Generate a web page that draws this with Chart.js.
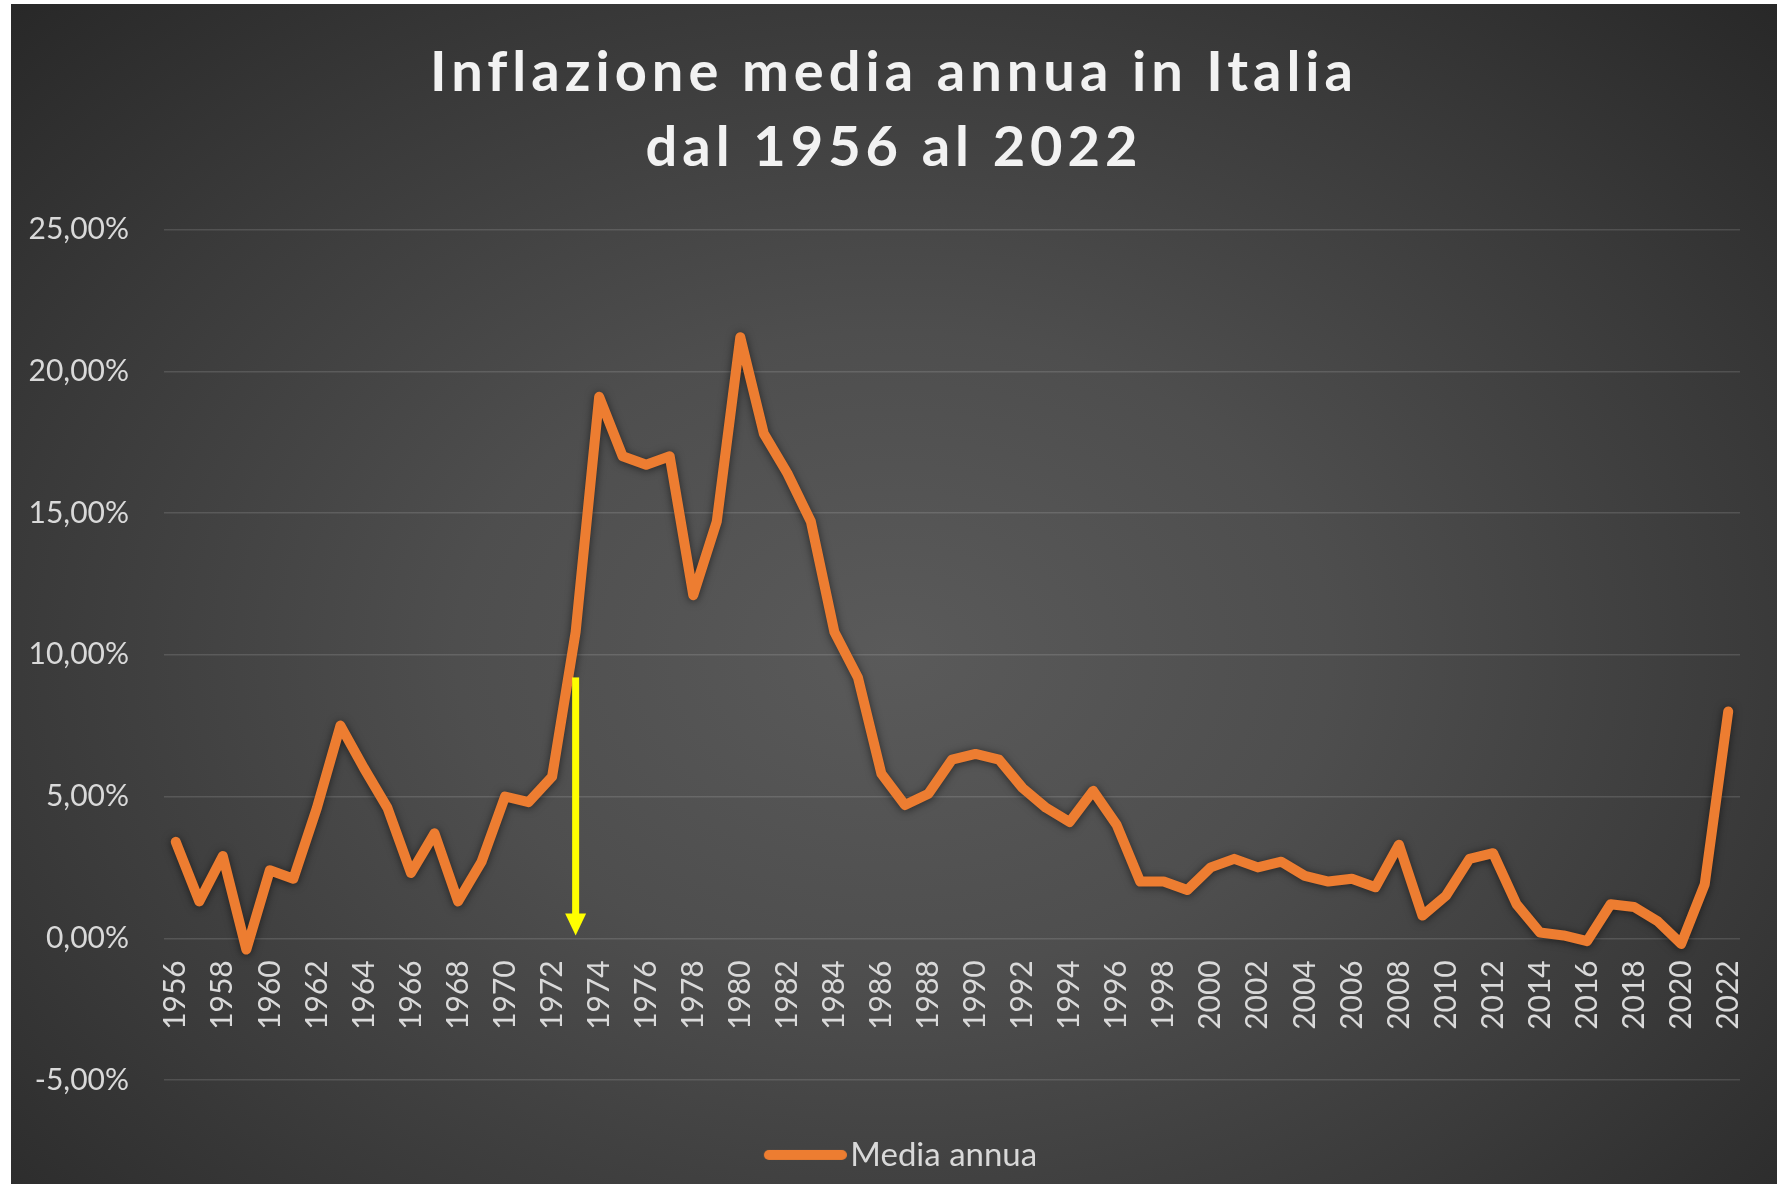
<!DOCTYPE html>
<html>
<head>
<meta charset="utf-8">
<script src="https://cdn.jsdelivr.net/npm/chart.js@4.4.1/dist/chart.umd.min.js"></script>
<style>
  html, body { margin: 0; padding: 0; background: #ffffff; }
  #wrap {
    position: absolute; left: 11px; top: 4px; width: 1766px; height: 1180px;
    background: radial-gradient(ellipse farthest-corner at 50% 55%, #5a5a5a 0%, #4e4e4e 35%, #3a3a3a 70%, #282828 100%);
  }
  canvas { display: block; }
</style>
</head>
<body>
<div id="wrap"><canvas id="c" width="1766" height="1180"></canvas></div>
<script>
// ---- Data ----
const titleLines = ["Inflazione media annua in Italia", "dal 1956 al 2022"];
const seriesName = "Media annua";
const years = [
  "1956","1957","1958","1959","1960","1961","1962","1963","1964","1965",
  "1966","1967","1968","1969","1970","1971","1972","1973","1974","1975",
  "1976","1977","1978","1979","1980","1981","1982","1983","1984","1985",
  "1986","1987","1988","1989","1990","1991","1992","1993","1994","1995",
  "1996","1997","1998","1999","2000","2001","2002","2003","2004","2005",
  "2006","2007","2008","2009","2010","2011","2012","2013","2014","2015",
  "2016","2017","2018","2019","2020","2021","2022"
];
const inflation = [
  3.4, 1.3, 2.9, -0.4, 2.4, 2.1, 4.6, 7.5, 6.0, 4.6,
  2.3, 3.7, 1.3, 2.7, 5.0, 4.8, 5.7, 10.8, 19.1, 17.0,
  16.7, 17.0, 12.1, 14.7, 21.2, 17.8, 16.4, 14.7, 10.8, 9.2,
  5.8, 4.7, 5.1, 6.3, 6.5, 6.3, 5.3, 4.6, 4.1, 5.2,
  4.0, 2.0, 2.0, 1.7, 2.5, 2.8, 2.5, 2.7, 2.2, 2.0,
  2.1, 1.8, 3.3, 0.8, 1.5, 2.8, 3.0, 1.2, 0.2, 0.1,
  -0.1, 1.2, 1.1, 0.6, -0.2, 1.9, 8.0
];
const yTickValues = [-5, 0, 5, 10, 15, 20, 25];
// Annotation arrow (year, from value, to value)
const arrowYear = "1973";
const arrowFrom = 9.2;
const arrowTo = 0.1;

const lineColor = '#ED7D31';
const labelColor = '#d9d9d9';
const fmtPct = v => v.toFixed(2).replace('.', ',') + '%';

// legend sample: a thick rounded line, shifted right inside its image
const legendBoxWidth = 83;
const legendShift = 13;
const legendSample = (() => {
  const cv = document.createElement('canvas');
  cv.width = legendBoxWidth + 2 * legendShift;
  cv.height = 14;
  const g = cv.getContext('2d');
  g.strokeStyle = lineColor;
  g.lineWidth = 10;
  g.lineCap = 'round';
  g.beginPath();
  g.moveTo(2 * legendShift + 5, 7);
  g.lineTo(cv.width - 5, 7);
  g.stroke();
  return cv;
})();

const titleSpacing = {
  id: 'titleSpacing',
  afterInit(chart) {
    const tb = chart.titleBlock;
    if (!tb) return;
    const orig = tb.draw.bind(tb);
    tb.draw = function(area) {
      const ctx = chart.ctx;
      ctx.save();
      ctx.letterSpacing = '5px';
      orig(area);
      ctx.restore();
    };
  }
};

const lineShadow = {
  id: 'lineShadow',
  beforeDatasetsDraw(chart) {
    const ctx = chart.ctx;
    ctx.save();
    ctx.shadowColor = 'rgba(0,0,0,0.55)';
    ctx.shadowBlur = 8;
    ctx.shadowOffsetX = 0;
    ctx.shadowOffsetY = 1;
  },
  afterDatasetsDraw(chart) {
    chart.ctx.restore();
  }
};

const arrowPlugin = {
  id: 'arrowPlugin',
  afterDraw(chart) {
    const xs = chart.scales.x, ys = chart.scales.y, ctx = chart.ctx;
    const x = xs.getPixelForValue(years.indexOf(arrowYear));
    const yTop = ys.getPixelForValue(arrowFrom);
    const yTip = ys.getPixelForValue(arrowTo);
    const headH = 22, headW = 21, shaftW = 7;
    ctx.save();
    ctx.fillStyle = '#FFFF00';
    ctx.fillRect(x - shaftW / 2, yTop, shaftW, (yTip - headH) - yTop + 1);
    ctx.beginPath();
    ctx.moveTo(x - headW / 2, yTip - headH);
    ctx.lineTo(x + headW / 2, yTip - headH);
    ctx.lineTo(x, yTip);
    ctx.closePath();
    ctx.fill();
    ctx.restore();
  }
};

new Chart(document.getElementById('c'), {
  type: 'line',
  data: {
    labels: years,
    datasets: [{
      label: seriesName,
      data: inflation,
      yAxisID: 'y',
      borderColor: lineColor,
      backgroundColor: lineColor,
      borderWidth: 10,
      borderJoinStyle: 'round',
      borderCapStyle: 'round',
      pointRadius: 0,
      pointHoverRadius: 0,
      tension: 0,
      fill: false
    }]
  },
  options: {
    responsive: false,
    animation: false,
    events: [],
    layout: { padding: { left: 0, right: 0, top: 0, bottom: 2.6 } },
    plugins: {
      title: {
        display: true,
        text: titleLines,
        color: '#f2f2f2',
        font: { family: 'Lato', weight: 'bold', size: 56, lineHeight: '75px' },
        padding: { top: 31, bottom: 44.5 }
      },
      legend: {
        display: true,
        position: 'bottom',
        labels: {
          usePointStyle: true,
          pointStyle: legendSample,
          pointStyleWidth: legendBoxWidth,
          padding: 58.4,
          color: labelColor,
          font: { family: 'Lato', size: 33 }
        }
      },
      tooltip: { enabled: false }
    },
    scales: {
      x: {
        type: 'category',
        position: { y: 0 },
        offset: true,
        grid: { display: false, drawTicks: false },
        border: { display: false },
        ticks: {
          autoSkip: false,
          minRotation: 90,
          maxRotation: 90,
          padding: 22,
          color: labelColor,
          font: { family: 'Lato', size: 30 },
          callback: (v, i) => (i % 2 === 0 ? years[i] : '')
        },
        afterFit: s => { s.height = 0; s.paddingLeft = 0; s.paddingRight = 0; }
      },
      y: {
        position: 'left',
        min: -5,
        max: 25,
        afterBuildTicks: s => { s.ticks = yTickValues.map(v => ({ value: v })); },
        grid: { color: 'rgba(255,255,255,0.13)', lineWidth: 1.5, drawTicks: false },
        border: { display: false },
        ticks: {
          padding: 35,
          color: labelColor,
          font: { family: 'Lato', size: 30 },
          callback: v => fmtPct(v)
        },
        afterFit: s => { s.width = 153; }
      },
      yRight: {
        position: 'right',
        display: true,
        grid: { display: false, drawTicks: false },
        border: { display: false },
        ticks: { display: false },
        afterFit: s => { s.width = 37; }
      }
    }
  },
  plugins: [titleSpacing, lineShadow, arrowPlugin]
});
</script>
</body>
</html>
